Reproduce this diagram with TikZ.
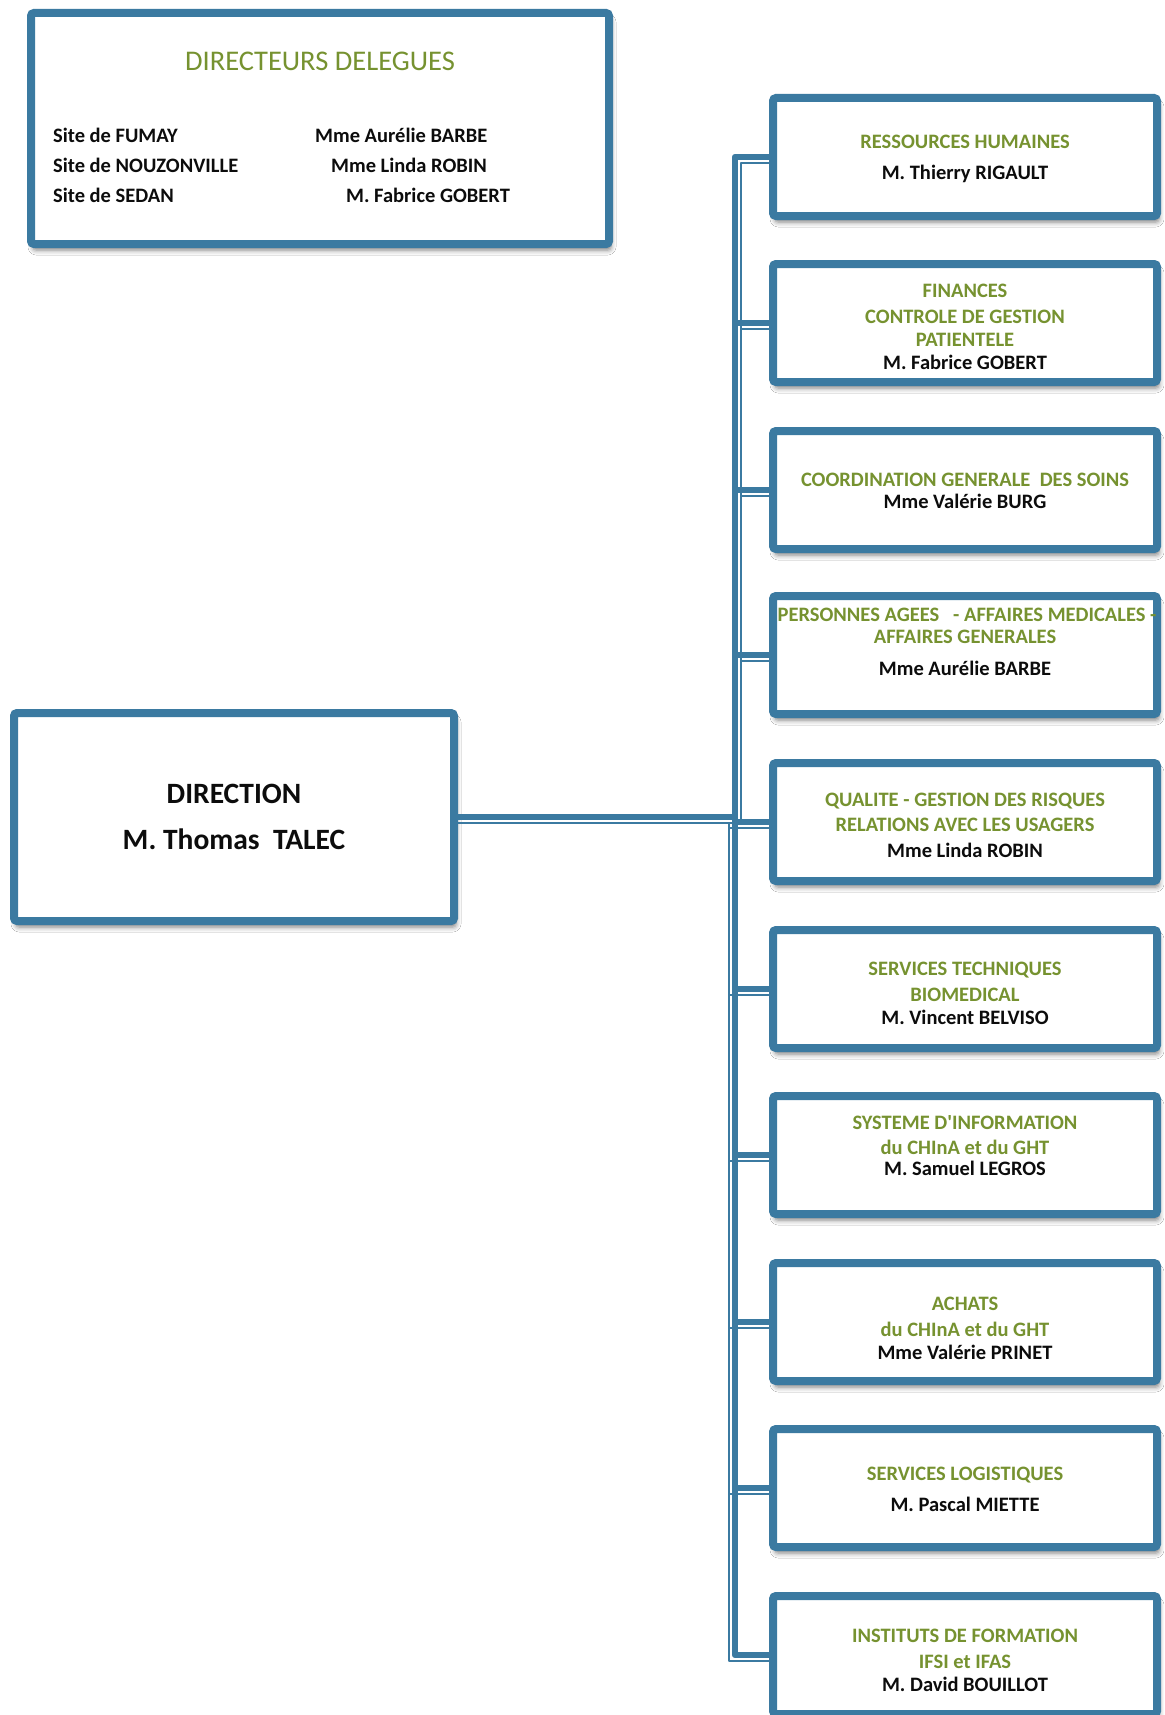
\documentclass[tikz,border=0pt]{standalone}
\usepackage{fontspec}
\setmainfont{Carlito}[Ligatures=TeXOff]
\usetikzlibrary{calc,shadows.blur}
\definecolor{bord}{RGB}{59,122,161}
\definecolor{olive}{RGB}{118,146,48}
\definecolor{ink}{RGB}{12,12,12}
\tikzset{
 box/.style={draw=bord, line width=8pt, fill=white, rounded corners=3pt, inner sep=0pt,
   blur shadow={shadow xshift=2pt, shadow yshift=-6pt, shadow blur radius=5pt, shadow opacity=50}},
 rbox/.style={box, minimum width=384pt, minimum height=118pt},
 gt/.style={text=olive, font=\bfseries\fontsize{20.5pt}{24pt}\selectfont, anchor=base, inner sep=0pt},
 kt/.style={text=ink, font=\bfseries\fontsize{20.5pt}{24pt}\selectfont, anchor=base, inner sep=0pt},
 kl/.style={kt, anchor=base west},
 bt/.style={text=ink, font=\bfseries\fontsize{29.5pt}{34pt}\selectfont, anchor=base, inner sep=0pt},
 thk/.style={draw=bord, line width=6.5pt, line join=round},
 thn/.style={draw=bord, line width=1.8pt, line join=round},
}
\newcommand\mybranch[2]{%
 \draw[thk] (dir.east) -- (vx |- dir.east) -- (vx |- #1.west) -- (#1.west);
 \draw[thn] ($(dir.east)+(0,6)$) -- ($(vx |- dir.east)+(#2,6)$) -- ($(vx |- #1.west)+(#2,6)$) -- ($(#1.west)+(0,6)$);}
\begin{document}
\begin{tikzpicture}[x=1pt,y=-1pt]
\useasboundingbox (0,0) rectangle (1164,1715);
\fill[white] (0,0) rectangle (1164,1715);

% top box
\node[box, minimum width=578pt, minimum height=231pt] (dd) at (320,128.5) {};
\node[text=olive, font=\fontsize{28.5pt}{32pt}\selectfont, anchor=base, inner sep=0pt] (ddt) at (320,71) {DIRECTEURS DELEGUES};
\node[kl] (s1) at (53,143) {Site de FUMAY};
\node[kl] (s2) at (53,173) {Site de NOUZONVILLE};
\node[kl] (s3) at (53,203) {Site de SEDAN};
\node[kl] (n1) at (315,143) {Mme Aurélie BARBE};
\node[kl] (n2) at (331,173) {Mme Linda ROBIN};
\node[kl] (n3) at (346,203) {M. Fabrice GOBERT};

% direction
\node[box, minimum width=440pt, minimum height=208pt] (dir) at (234,817) {};
\node[bt] (dirt) at (234,803) {DIRECTION};
\node[bt] (dirn) at (234,849) {M. Thomas\ \ TALEC};

% right boxes
\node[rbox] (b1) at (965,157) {};
\node[rbox] (b2) at (965,323) {};
\node[rbox] (b3) at (965,490) {};
\node[rbox] (b4) at (965,655) {};
\node[rbox] (b5) at (965,822) {};
\node[rbox] (b6) at (965,989) {};
\node[rbox] (b7) at (965,1155) {};
\node[rbox] (b8) at (965,1322) {};
\node[rbox] (b9) at (965,1488) {};
\node[rbox] (b10) at (965,1655) {};

\node[gt] (t1a) at (965,149) {RESSOURCES HUMAINES};
\node[kt] (t1b) at (965,180) {M. Thierry RIGAULT};

\node[gt] (t2a) at (965,297) {FINANCES};
\node[gt] (t2b) at (965,323) {CONTROLE DE GESTION};
\node[gt] (t2c) at (965,346) {PATIENTELE};
\node[kt] (t2d) at (965,369) {M. Fabrice GOBERT};

\node[gt] (t3a) at (965,486) {COORDINATION GENERALE\ \ DES SOINS};
\node[kt] (t3b) at (965,508) {Mme Valérie BURG};

\node[gt] (t4a) at (967,621) {PERSONNES AGEES\ \ \ - AFFAIRES MEDICALES -};
\node[gt] (t4b) at (965,643) {AFFAIRES GENERALES};
\node[kt] (t4c) at (965,675) {Mme Aurélie BARBE};

\node[gt] (t5a) at (965,806) {QUALITE - GESTION DES RISQUES};
\node[gt] (t5b) at (965,831) {RELATIONS AVEC LES USAGERS};
\node[kt] (t5c) at (965,857) {Mme Linda ROBIN};

\node[gt] (t6a) at (965,975) {SERVICES TECHNIQUES};
\node[gt] (t6b) at (965,1001) {BIOMEDICAL};
\node[kt] (t6c) at (965,1024) {M. Vincent BELVISO};

\node[gt] (t7a) at (965,1129) {SYSTEME D'INFORMATION};
\node[gt] (t7b) at (965,1154) {du CHInA et du GHT};
\node[kt] (t7c) at (965,1175) {M. Samuel LEGROS};

\node[gt] (t8a) at (965,1310) {ACHATS};
\node[gt] (t8b) at (965,1336) {du CHInA et du GHT};
\node[kt] (t8c) at (965,1359) {Mme Valérie PRINET};

\node[gt] (t9a) at (965,1480) {SERVICES LOGISTIQUES};
\node[kt] (t9b) at (965,1511) {M. Pascal MIETTE};

\node[gt] (t10a) at (965,1642) {INSTITUTS DE FORMATION};
\node[gt] (t10b) at (965,1668) {IFSI et IFAS};
\node[kt] (t10c) at (965,1691) {M. David BOUILLOT};

% connectors
\coordinate (vx) at (735,817);
\mybranch{b1}{6}
\mybranch{b2}{6}
\mybranch{b3}{6}
\mybranch{b4}{6}
\mybranch{b5}{-6}
\mybranch{b6}{-6}
\mybranch{b7}{-6}
\mybranch{b8}{-6}
\mybranch{b9}{-6}
\mybranch{b10}{-6}
\end{tikzpicture}
\end{document}
